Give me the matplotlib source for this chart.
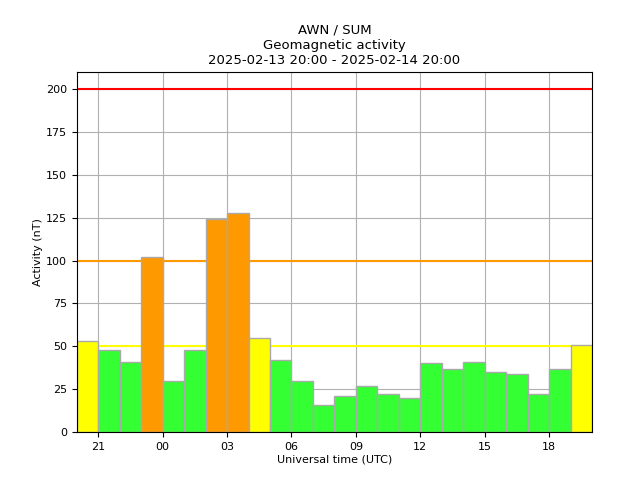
import numpy as np
import matplotlib
matplotlib.use('Agg')
import matplotlib.pyplot as plt

# hourly activity, starting 2025-02-13 20:00
hours = np.arange(20, 44)
activity = [53, 48, 41, 102, 30, 48, 124, 128, 55, 42, 30, 16,
            21, 27, 22, 20, 40, 37, 41, 35, 34, 22, 37, 51]
tick_pos = [21, 24, 27, 30, 33, 36, 39, 42]
tick_lab = ['21', '00', '03', '06', '09', '12', '15', '18']
levels = [(50, '#ffff00'), (100, '#ff9900'), (200, '#ff0000')]

def bar_color(v):
    if v >= 200:
        return '#ff0000'
    if v >= 100:
        return '#ff9900'
    if v >= 50:
        return '#ffff00'
    return '#33ff33'

fig, ax = plt.subplots(figsize=(6.4, 4.8), dpi=100)
fig.subplots_adjust(left=0.12, right=0.925, bottom=0.1, top=0.85)
ax.set_axisbelow(True)
ax.grid(True, color='#b0b0b0', linewidth=0.8)
for lev, c in levels:
    ax.axhline(lev, color=c, linewidth=1.5, zorder=1)
ax.bar(hours, activity, width=1.0, align='edge',
       color=[bar_color(v) for v in activity], edgecolor='#aaaaaa', linewidth=1, zorder=2)
ax.set_xlim(20, 44)
ax.set_ylim(0, 210)
ax.set_xticks(tick_pos)
ax.set_xticklabels(tick_lab)
ax.set_xlabel('Universal time (UTC)', fontsize=8, labelpad=2)
ax.set_ylabel('Activity (nT)', fontsize=8, labelpad=2)
ax.tick_params(labelsize=8)
ax.set_title('AWN / SUM\nGeomagnetic activity\n2025-02-13 20:00 - 2025-02-14 20:00', fontsize=9.5)
plt.savefig('out.png')
